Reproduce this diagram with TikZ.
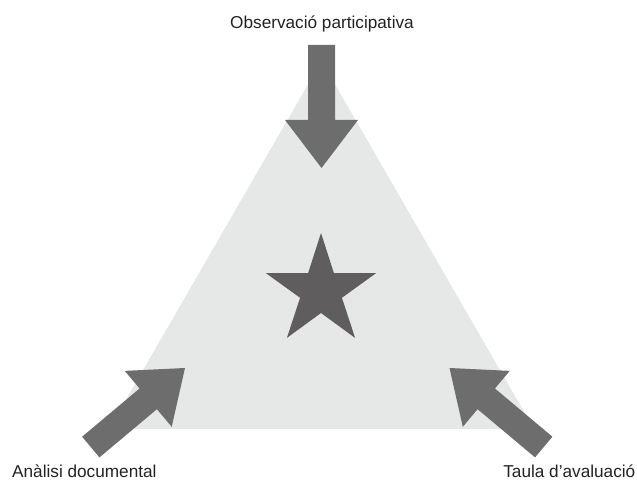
\documentclass[tikz,border=0pt]{standalone}
\usepackage{fontspec}
\setmainfont{Liberation Sans}
\definecolor{trifill}{HTML}{E6E7E7}
\definecolor{arrowfill}{HTML}{6D6D6D}
\definecolor{starfill}{HTML}{5F5D5D}
\definecolor{txt}{HTML}{222222}
\begin{document}
\begin{tikzpicture}[x=1bp,y=1bp,
  lbl/.style={text=txt,inner sep=0pt,font=\fontsize{17.2bp}{20bp}\selectfont},
  bigarrow/.style={fill=arrowfill}]
\useasboundingbox (0,0) rectangle (637,481);
% triangle
\fill[trifill] (321.5,420) -- (109,52) -- (534,52) -- cycle;
% star
\fill[starfill,shift={(321,190)}]
  (90:58) -- (126:22) -- (162:58) -- (198:22) -- (234:58) -- (270:22)
  -- (306:58) -- (342:22) -- (18:58) -- (54:22) -- cycle;
% arrows (tip at origin, pointing +x)
\foreach \tx/\ty/\ang in {321.5/313/-90, 185/113/40, 449.5/113/140}{
  \fill[bigarrow,shift={(\tx,\ty)},rotate=\ang]
    (0,0) -- (-48,36.5) -- (-48,13.5) -- (-123,13.5) -- (-123,-13.5)
    -- (-48,-13.5) -- (-48,-36.5) -- cycle;
}
% labels
\node[lbl,anchor=base] (obs) at (322,452) {Observació participativa};
\node[lbl,anchor=base west] (ana) at (12,3.5) {Anàlisi documental};
\node[lbl,anchor=base east] (tau) at (635.5,3.5) {Taula d'avaluació};
\end{tikzpicture}
\end{document}
